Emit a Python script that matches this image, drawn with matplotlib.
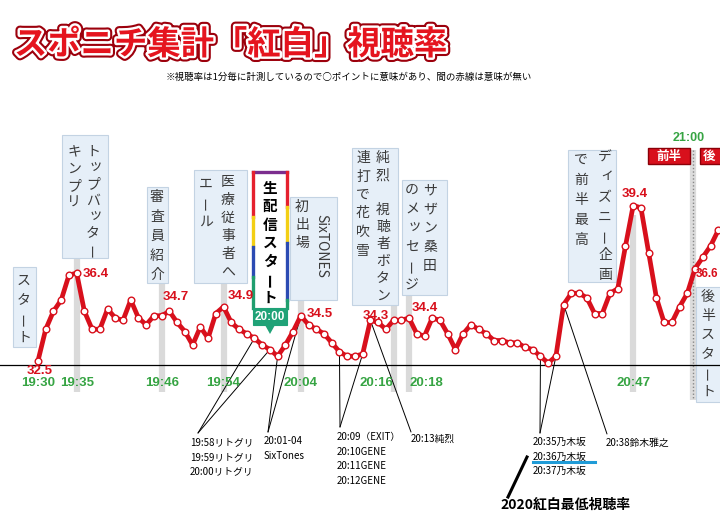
import matplotlib
matplotlib.use('Agg')
import matplotlib.pyplot as plt
import matplotlib.patheffects as pe
from matplotlib.patches import Rectangle, Polygon
from matplotlib.transforms import blended_transform_factory
import numpy as np

plt.rcParams['font.family'] = ['Noto Sans CJK JP', 'DejaVu Sans']

# one point per minute, 19:30 .. 20:54, then 21:00 onwards (news break skipped)
rating = [32.5, 33.9, 34.7, 35.2, 36.3, 36.4, 34.7, 33.9, 33.9, 34.8,
          34.4, 34.3, 35.2, 34.4, 34.1, 34.5, 34.5, 34.7, 34.2, 33.8,
          33.2, 34.0, 33.5, 34.6, 34.9, 34.2, 33.9, 33.7, 33.5, 33.2,
          33.0, 32.7, 33.2, 33.8, 34.5, 34.1, 33.9, 33.7, 33.3, 32.9,
          32.7, 32.7, 32.8, 34.3, 34.2, 33.9, 34.3, 34.3, 34.4, 33.7,
          33.6, 34.4, 34.3, 33.7, 33.0, 33.7, 34.1, 33.9, 33.7, 33.4,
          33.4, 33.3, 33.3, 33.1, 33.0, 32.7, 32.4, 32.7, 35.0, 35.5,
          35.5, 35.3, 34.6, 34.6, 35.5, 35.7, 37.6, 39.4, 39.3, 37.3,
          35.3, 34.2, 34.2, 34.9, 35.5, 36.6, 37.1, 37.6, 38.3]
minutes = np.arange(len(rating))

tick_idx = [0, 5, 16, 24, 34, 46, 48, 77]
tick_lbl = ['19:30', '19:35', '19:46', '19:54', '20:04', '20:16', '20:18', '20:47']
peak_idx = [0, 5, 17, 24, 34, 43, 48, 77, 85]

title = 'スポニチ集計「紅白」視聴率'
note = '※視聴率は1分毎に計測しているので○ポイントに意味があり、間の赤線は意味が無い'

RED = '#d8101c'
GREEN = '#36a443'
BOXFC = '#e6eff8'
BOXEC = '#c3d3e3'
NUM_FONT = ['Liberation Sans Narrow', 'Liberation Sans', 'DejaVu Sans']

fig = plt.figure(figsize=(7.2, 5.3), dpi=100)
# helper axes in pixel units (origin top-left) used only for layout
lay = fig.add_axes([0, 0, 1, 1])
lay.set_xlim(0, 720)
lay.set_ylim(530, 0)
lay.axis('off')

ax = fig.add_axes([0, 0, 1, 1], zorder=1)
ax.set_xlim(-38 / 7.73, 682 / 7.73)
ax.set_ylim(36.4 - 257 / 22.5, 36.4 + 273 / 22.5)
ax.axis('off')
ax.patch.set_visible(False)

P = lay.transData
blend = blended_transform_factory(ax.transData, lay.transData)


def vtext(x, y0, s, step, size=10, color='#3a3a3a', weight='normal'):
    for k, ch in enumerate(s):
        if ch == ' ':
            continue
        rot = 90 if ch == 'ー' else 0
        dx, dy = (2, -2) if ch in 'ッャュョィェァ' else (0, 0)
        ax.text(x + dx, y0 + k * step + dy, ch, transform=P, ha='center', va='center',
                rotation=rot, fontsize=size, color=color, fontweight=weight, zorder=6)


def box(x0, y0, x1, y1, fc=BOXFC, ec=BOXEC, lw=0.8, z=1):
    ax.add_patch(Rectangle((x0, y0), x1 - x0, y1 - y0, transform=P, fc=fc, ec=ec,
                           lw=lw, zorder=z, clip_on=False))


# title + note
ax.text(14, 45, title, transform=P, fontsize=24, fontweight='bold', color='#e5141e',
        ha='left', va='center', zorder=10,
        path_effects=[pe.Stroke(linewidth=6.5, foreground='#9c000c'),
                      pe.Stroke(linewidth=3.5, foreground='white'), pe.Normal()])
ax.text(166, 77, note, transform=P, fontsize=6.8, ha='left', va='center', color='black')

# base line
ax.plot([0, 720], [365, 365], transform=P, color='black', lw=0.9, zorder=2)

# gray strips under the labelled minutes
strip_top = [258, 283, 283, 300, 305, 295, 215]
for i, top in zip(tick_idx[1:], strip_top):
    ax.plot([i, i], [top, 392], transform=blend, color='#dadada', lw=4.5,
            solid_capstyle='butt', zorder=0.5)
# 21:00 separator
ax.plot([693, 693], [150, 400], transform=P, color='#dcdcdc', lw=4.5, solid_capstyle='butt', zorder=0.5)
ax.plot([693, 693], [150, 400], transform=P, color='#888888', lw=1.0, ls=(0, (1, 1.5)), zorder=0.6)

# callout boxes
box(13, 267, 36, 347)
vtext(24, 281, 'スタート', 19)
box(62, 135, 108, 258)
vtext(93, 152, 'トップバッター', 16.3)
vtext(74, 152, 'キンプリ', 17)
box(147, 187, 168, 283)
vtext(157, 197, '審査員紹介', 19.5)
box(194, 170, 247, 283)
vtext(228, 182, '医療従事者へ', 18)
vtext(206, 184, 'エール', 19)
box(290, 197, 337, 300)
ax.text(321, 246, 'SixTONES', transform=P, rotation=-90, ha='center', va='center',
        fontsize=10, color='#3a3a3a', zorder=6)
vtext(302, 207, '初出場', 18)
box(352, 148, 398, 305)
vtext(383, 158, '純烈 視聴者ボタン', 17.2)
vtext(363, 158, '連打で花吹雪', 18.5)
box(402, 180, 447, 295)
vtext(430, 190, 'サザン桑田', 19)
vtext(412, 190, 'のメッセージ', 19)
box(568, 150, 616, 282)
vtext(605, 158, 'ディズニー企画', 19.5)
vtext(581, 160, 'で前半最高', 20)
box(696, 287, 726, 402)
vtext(708, 297, '後半スタート', 19)

# live-stream start marker with rainbow frame
box(253, 172, 287, 308, fc='white', ec='none', z=2)
frame = [((253, 172), (287, 172), '#7b2d8e'),
         ((253, 172), (253, 217), '#e5202e'), ((253, 217), (253, 247), '#f3cf14'),
         ((253, 247), (253, 277), '#2b4bb3'), ((253, 277), (253, 308), '#1f9e6e'),
         ((287, 172), (287, 207), '#e5202e'), ((287, 207), (287, 243), '#f3cf14'),
         ((287, 243), (287, 300), '#2b4bb3'), ((287, 300), (287, 308), '#1f9e6e')]
for (xa, ya), (xb, yb), c in frame:
    ax.plot([xa, xb], [ya, yb], transform=P, color=c, lw=2.4, solid_capstyle='projecting', zorder=3)
vtext(270, 188, '生配信スタート', 18.3, size=10.5, color='black', weight='bold')
box(253, 308, 287, 325, fc='#1fa277', ec='#1fa277', z=3)
ax.add_patch(Polygon([(265, 325), (275, 325), (270, 334)], closed=True, transform=P,
                     fc='#1fa277', ec='none', zorder=3))
ax.text(270, 316.5, '20:00', transform=P, ha='center', va='center', color='white',
        fontsize=8.5, fontweight='bold', family=NUM_FONT, zorder=6)

# first half / second half header
box(648, 148, 690, 164, fc='#d8101c', ec='#8a0008', lw=1, z=3)
ax.text(669, 156, '前半', transform=P, ha='center', va='center', color='white',
        fontsize=9, fontweight='bold', zorder=6)
box(700, 148, 745, 164, fc='#d8101c', ec='#8a0008', lw=1, z=3)
ax.text(703, 156, '後', transform=P, ha='left', va='center', color='white',
        fontsize=9, fontweight='bold', zorder=6)
ax.text(689, 138, '21:00', transform=P, ha='center', va='center', color=GREEN,
        fontsize=9, fontweight='bold', family=NUM_FONT)

# rating line
ax.plot(minutes, rating, color=RED, lw=3.4, zorder=4, solid_joinstyle='round')
ax.plot(minutes, rating, 'o', ms=4.8, mfc='white', mec=RED, mew=1.0, zorder=5)

# time labels
tick_ha = ['center'] * 5 + ['right', 'left', 'center']
for i, lbl, ha in zip(tick_idx, tick_lbl, tick_ha):
    ax.text(i, 383, lbl, transform=blend, ha=ha, va='center', color=GREEN,
            fontsize=9.5, fontweight='bold', family=NUM_FONT, zorder=6)

# value labels
peak_pos = [(40, 371, 'center', 9.5), (83, 274, 'left', 9.5), (163, 297, 'left', 9.5),
            (228, 296, 'left', 9.5), (307, 314, 'left', 9.5), (363, 316, 'left', 9.5),
            (412, 308, 'left', 9.5), (622, 194, 'left', 9.5), (718, 274, 'right', 8.5)]
for i, (px, py, ha, fs) in zip(peak_idx, peak_pos):
    ax.text(px, py, f'{rating[i]:.1f}', transform=P, ha=ha, va='center', color=RED,
            fontsize=fs, fontweight='bold', family=NUM_FONT, zorder=6)

# bottom notes with leader lines
notes = [
    (['19:58リトグリ', '19:59リトグリ', '20:00リトグリ'], (190, 442), (198, 433), [28, 30]),
    (['20:01-04', 'SixTones'], (264, 441), (268, 432), [31, 34]),
    (['20:09（EXIT）', '20:10GENE', '20:11GENE', '20:12GENE'], (337, 437), (340, 427), [39, 42]),
    (['20:13純烈'], (411, 439), (411, 432), [43]),
    (['20:35乃木坂', '20:36乃木坂', '20:37乃木坂'], (533, 442), (540, 433), [65, 67]),
    (['20:38鈴木雅之'], (606, 443), (607, 434), [68]),
]
for lines, (tx, ty), org, targets in notes:
    for k, s in enumerate(lines):
        ax.text(tx, ty + k * 14.7, s, transform=P, ha='left', va='center', fontsize=7, color='black')
    for i in targets:
        ax.annotate('', xy=(i, rating[i]), xycoords='data', xytext=org, textcoords=P,
                    arrowprops=dict(arrowstyle='-', lw=0.7, color='black', shrinkA=0, shrinkB=0),
                    zorder=3)

ax.plot([533, 595], [462, 462], transform=P, color='#1f9bd7', lw=2.2, zorder=3)
ax.plot([508, 527], [497, 457], transform=P, color='black', lw=2.2, zorder=3)
ax.text(500, 505, '2020紅白最低視聴率', transform=P, ha='left', va='center', fontsize=10,
        fontweight='bold', color='black')

fig.savefig('out.png', dpi=100)
